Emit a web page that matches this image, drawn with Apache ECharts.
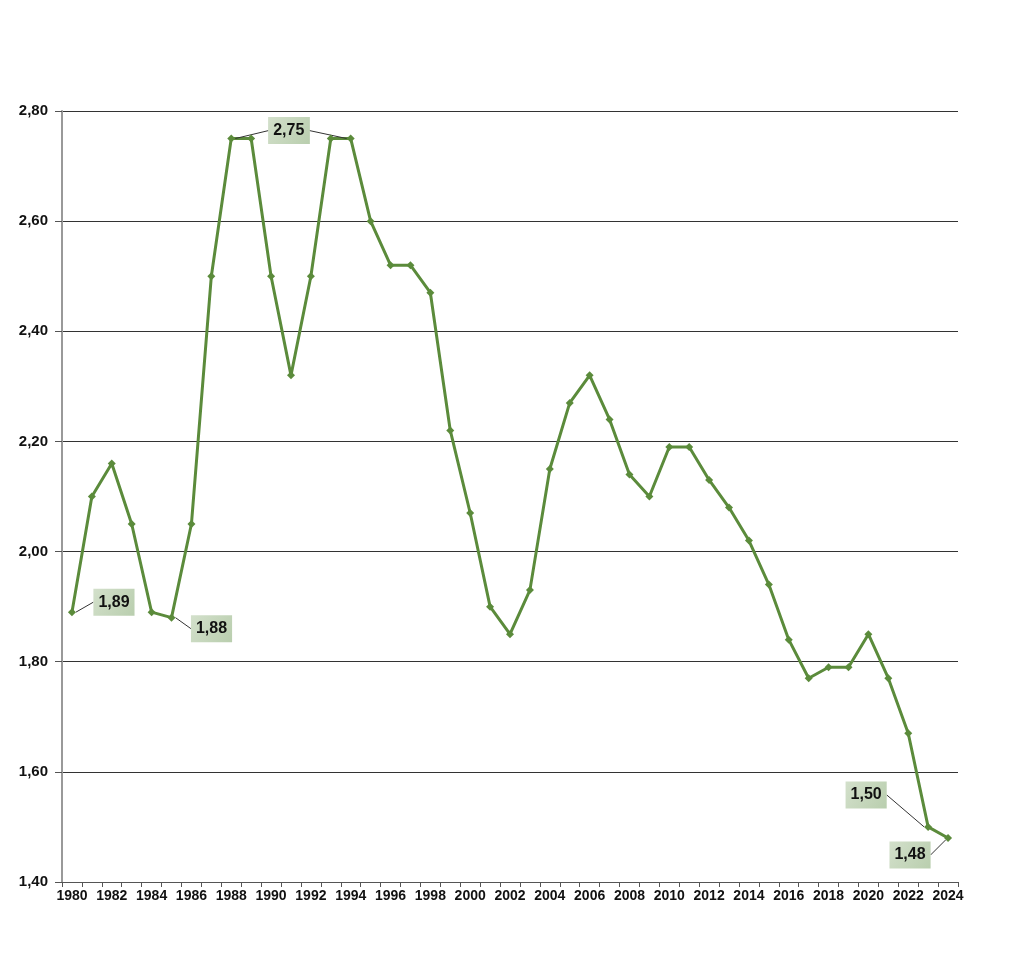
<!DOCTYPE html>
<html><head><meta charset="utf-8">
<script src="https://cdn.jsdelivr.net/npm/echarts@6/dist/echarts.min.js"></script>
<style>html,body{margin:0;padding:0;background:#fff}#c{width:1024px;height:973px}</style>
</head><body><div id="c"></div>
<script>
var years = [];
for (var y = 1980; y <= 2024; y++) years.push(String(y));
var values = [1.89,2.10,2.16,2.05,1.89,1.88,2.05,2.50,2.75,2.75,2.50,2.32,2.50,2.75,2.75,2.60,2.52,2.52,2.47,2.22,2.07,1.90,1.85,1.93,2.15,2.27,2.32,2.24,2.14,2.10,2.19,2.19,2.13,2.08,2.02,1.94,1.84,1.77,1.79,1.79,1.85,1.77,1.67,1.50,1.48];
var labelled = ['1980','1985','1988','1994','2023','2024'];
var offsets = {'1980':[42,-10],'1985':[40,11],'1988':[58,-8],'1994':[-62,-8],'2023':[-62,-32],'2024':[-38,17]};
function fmt(v){return v.toFixed(2).replace('.', ',');}
var chart = echarts.init(document.getElementById('c'));
chart.setOption({
  animation:false,
  grid:{left:62,right:66,top:111,bottom:91},
  xAxis:{type:'category',data:years,boundaryGap:true,
    axisLine:{lineStyle:{color:'#555',width:1}},
    axisTick:{show:true,interval:0,length:5,lineStyle:{color:'#555'}},
    axisLabel:{interval:1,color:'#111',fontWeight:'bold',fontSize:14,fontFamily:'Liberation Sans, Arial',margin:7}
  },
  yAxis:{type:'value',min:1.4,max:2.8,interval:0.2,
    axisLine:{show:true,lineStyle:{color:'#999',width:2}},
    axisTick:{show:true,length:7,lineStyle:{color:'#555'}},
    splitLine:{lineStyle:{color:'#333',width:1}},
    axisLabel:{formatter:function(v){return fmt(v);},color:'#111',fontWeight:'bold',fontSize:15,fontFamily:'Liberation Sans, Arial',margin:14}
  },
  series:[{
    type:'line',
    data:values.map(function(v,i){
      var yr = years[i];
      var item = {value:v};
      if (labelled.indexOf(yr) >= 0) {
        item.label = {show:true};
      }
      return item;
    }),
    symbol:'diamond',symbolSize:8,
    lineStyle:{color:'#5b8b3b',width:3},
    itemStyle:{color:'#5b8b3b'},
    label:{show:false,position:'inside',formatter:function(p){return fmt(p.value);},
      color:'#111',fontWeight:'bold',fontSize:16,fontFamily:'Liberation Sans, Arial',
      backgroundColor:{type:'linear',x:0,y:0,x2:1,y2:1,colorStops:[{offset:0,color:'#d3e0cb'},{offset:1,color:'#b9ceae'}]},
      padding:[6,5,5,5]},
    labelLine:{show:true,lineStyle:{color:'#333',width:1}},
    labelLayout:function(p){
      var yr = years[p.dataIndex];
      var o = offsets[yr];
      if (!o) return {};
      return {dx:o[0],dy:o[1]};
    }
  }]
});
</script></body></html>
